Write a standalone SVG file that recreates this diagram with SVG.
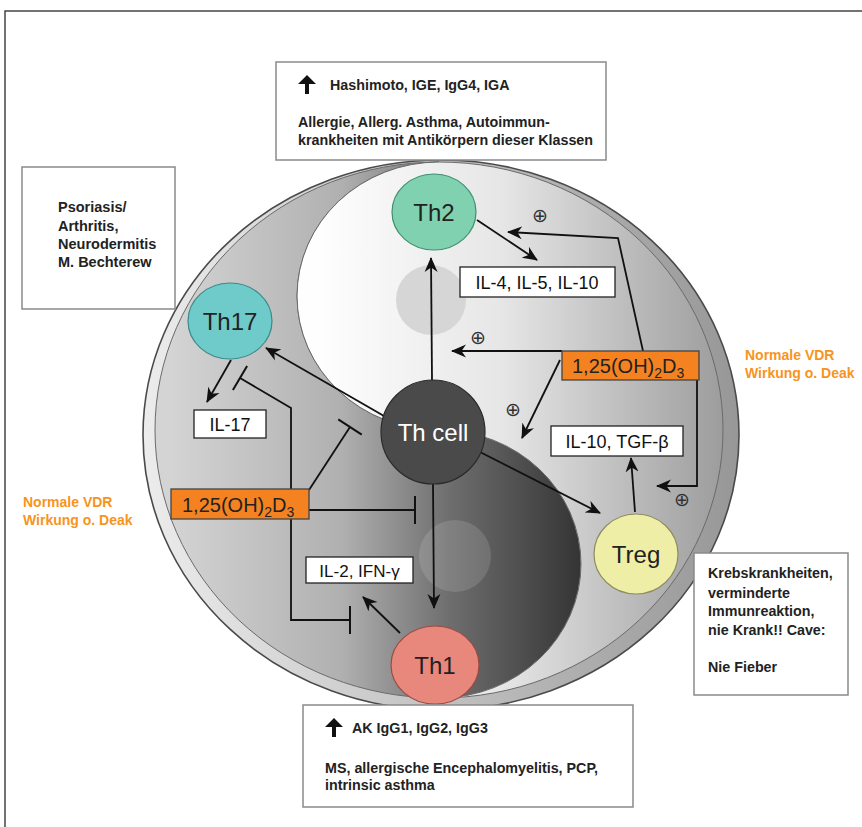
<svg xmlns="http://www.w3.org/2000/svg" width="862" height="827" viewBox="0 0 862 827">
<defs>
<linearGradient id="gRing" gradientUnits="userSpaceOnUse" x1="143" y1="0" x2="740" y2="0">
<stop offset="0" stop-color="#ececec"/><stop offset="1" stop-color="#979797"/>
</linearGradient>
<linearGradient id="gWhite" gradientUnits="userSpaceOnUse" x1="320" y1="0" x2="725" y2="0">
<stop offset="0" stop-color="#fefefe"/><stop offset="0.45" stop-color="#e6e6e6"/><stop offset="1" stop-color="#9c9c9c"/>
</linearGradient>
<linearGradient id="gDark" gradientUnits="userSpaceOnUse" x1="170" y1="0" x2="600" y2="0">
<stop offset="0" stop-color="#d4d4d4"/><stop offset="0.4" stop-color="#b0b0b0"/><stop offset="0.65" stop-color="#6e6e6e"/><stop offset="1" stop-color="#2c2c2c"/>
</linearGradient>
<marker id="arr" markerUnits="userSpaceOnUse" markerWidth="16" markerHeight="14" refX="14" refY="7" orient="auto" viewBox="0 0 16 14">
<path d="M0,0.5 L15,7 L0,13.5 L4.5,7 Z" fill="#111"/>
</marker>
<marker id="tee" markerUnits="userSpaceOnUse" markerWidth="6" markerHeight="30" refX="3" refY="15" orient="auto" viewBox="0 0 6 30">
<path d="M3,1 L3,29" stroke="#111" stroke-width="2"/>
</marker>
</defs>
<style>
.frame{fill:none;stroke:#444;stroke-width:1.5}
.ell{stroke:#4a4a4a;stroke-width:1.6}
.lobe{stroke:#6a6a6a;stroke-width:1}
.con{fill:none;stroke:#111;stroke-width:1.8}
.ar{marker-end:url(#arr)}
.inh{marker-end:url(#tee)}
.node text{font-family:"Liberation Sans",Arial,sans-serif;font-size:24px;fill:#222;text-anchor:middle}
.nstroke{stroke-width:1.2}
.info rect{fill:#fff;stroke:#8a8a8a;stroke-width:1.5}
.info text{font-family:"Liberation Sans",Arial,sans-serif;font-weight:bold;fill:#222}
.lab rect{fill:#fff;stroke:#222;stroke-width:1.3}
.lab text{font-family:"Liberation Sans",Arial,sans-serif;font-size:18px;fill:#111;text-anchor:middle}
.vd rect{fill:#f58220;stroke:#444;stroke-width:1.3}
.vd text{font-family:"Liberation Sans",Arial,sans-serif;font-size:20px;fill:#222}
.orange{font-family:"Liberation Sans",Arial,sans-serif;font-weight:bold;font-size:14px;fill:#f7941d}
.plus{font-family:"DejaVu Sans",sans-serif;font-size:19px;fill:#333;text-anchor:middle}
</style>
<rect width="862" height="827" fill="#fff"/>
<path class="frame" d="M5,827 L5,11 L862,11"/>

<g id="background">
<ellipse class="ell" cx="441" cy="435" rx="298" ry="275" fill="url(#gRing)"/>
<path class="lobe" fill="url(#gDark)" d="M439,162 A284,268 0 0 0 439,698 A142,134 0 0 0 439,430 A142,134 0 0 1 439,162 Z"/>
<path class="lobe" fill="url(#gWhite)" d="M439,162 A284,268 0 0 1 439,698 A142,134 0 0 0 439,430 A142,134 0 0 1 439,162 Z"/>
<circle cx="431" cy="300" r="35" fill="#d6d6d6"/>
<circle cx="455" cy="556" r="36" fill="#ffffff" fill-opacity="0.13"/>
</g>

<g id="connectors">
<path class="con ar" d="M432,380 L431,258"/>
<path class="con ar" d="M477,220 L537,260"/>
<path class="con ar" d="M643,351 L618,238 L508,232"/>
<path class="con ar" d="M562,351 L452,351"/>
<path class="con ar" d="M560,360 L522,438"/>
<path class="con ar" d="M697,380 L697,486 L657,486"/>
<path class="con ar" d="M480,452 L600,513"/>
<path class="con ar" d="M635,512 L631,458"/>
<path class="con ar" d="M384,416 L266,348"/>
<path class="con ar" d="M231,360 L207,402"/>
<path class="con inh" d="M350,620 L291,620 L291,408 L240,378" marker-start="url(#tee)"/>
<path class="con inh" d="M309,490 L350,427"/>
<path class="con inh" d="M309,510 L415,510"/>
<path class="con ar" d="M433,484 L434,608"/>
<path class="con ar" d="M400,633 L363,597"/>
<text class="plus" x="540" y="222">⊕</text>
<text class="plus" x="478" y="344">⊕</text>
<text class="plus" x="513" y="416">⊕</text>
<text class="plus" x="682" y="506">⊕</text>
</g>

<g id="Th2" class="node"><ellipse class="nstroke" cx="434" cy="212" rx="42" ry="38" fill="#7fd1b0" stroke="#3f8f6f"/><text x="434" y="221">Th2</text></g>
<g id="Th17" class="node"><ellipse class="nstroke" cx="230" cy="321" rx="42" ry="38" fill="#6fcaca" stroke="#3a8a8a"/><text x="230" y="330">Th17</text></g>
<g id="Thcell" class="node"><circle class="nstroke" cx="433" cy="432" r="52" fill="#4a4a4a" stroke="#2a2a2a"/><text x="433" y="441" style="fill:#fff">Th cell</text></g>
<g id="Treg" class="node"><ellipse class="nstroke" cx="636" cy="554" rx="42" ry="40" fill="#efeea6" stroke="#8d8d60"/><text x="636" y="563">Treg</text></g>
<g id="Th1" class="node"><ellipse class="nstroke" cx="435" cy="665" rx="44" ry="39" fill="#e8877b" stroke="#9c4b42"/><text x="435" y="674">Th1</text></g>

<g id="IL4" class="lab"><rect x="460" y="267" width="155" height="30"/><text x="537" y="289">IL-4, IL-5, IL-10</text></g>
<g id="IL10TGF" class="lab"><rect x="551" y="426" width="132" height="30"/><text x="617" y="448">IL-10, TGF-β</text></g>
<g id="IL17" class="lab"><rect x="194" y="410" width="72" height="28"/><text x="230" y="431">IL-17</text></g>
<g id="IL2" class="lab"><rect x="306" y="557" width="107" height="26"/><text x="359.5" y="577" style="font-size:17px">IL-2, IFN-γ</text></g>

<g id="vdr-right" class="vd"><rect x="562" y="351" width="137" height="29"/><text x="572" y="373">1,25(OH)<tspan dy="5" font-size="14">2</tspan><tspan dy="-5">D</tspan><tspan dy="5" font-size="14">3</tspan></text></g>
<g id="vdr-left" class="vd"><rect x="171" y="489" width="138" height="30"/><text x="182" y="512">1,25(OH)<tspan dy="5" font-size="14">2</tspan><tspan dy="-5">D</tspan><tspan dy="5" font-size="14">3</tspan></text></g>

<g id="note-right-vdr"><text class="orange" x="745" y="360">Normale VDR</text><text class="orange" x="745" y="378">Wirkung o. Deak</text></g>
<g id="note-left-vdr"><text class="orange" x="23" y="507">Normale VDR</text><text class="orange" x="23" y="525">Wirkung o. Deak</text></g>

<g id="box-top" class="info">
<rect x="276" y="62" width="330" height="98"/>
<path d="M307,75 L316,84 L309,84 L309,94 L305,94 L305,84 L298,84 Z" fill="#111"/>
<text x="330" y="90" font-size="14.3">Hashimoto, IGE, IgG4, IGA</text>
<text x="298" y="127" font-size="14.3">Allergie, Allerg. Asthma, Autoimmun-</text>
<text x="298" y="145" font-size="14.3">krankheiten mit Antikörpern dieser Klassen</text>
</g>
<g id="box-left" class="info">
<rect x="22" y="167" width="153" height="142"/>
<text x="58" y="212" font-size="14.5">Psoriasis/</text>
<text x="58" y="231" font-size="14.5">Arthritis,</text>
<text x="58" y="249" font-size="14.5">Neurodermitis</text>
<text x="58" y="267" font-size="14.5">M. Bechterew</text>
</g>
<g id="box-right" class="info">
<rect x="694" y="553" width="154" height="142"/>
<text x="708" y="578" font-size="14.3">Krebskrankheiten,</text>
<text x="708" y="598" font-size="14.3">verminderte</text>
<text x="708" y="616" font-size="14.3">Immunreaktion,</text>
<text x="708" y="635" font-size="14.3">nie Krank!! Cave:</text>
<text x="708" y="672" font-size="14.3">Nie Fieber</text>
</g>
<g id="box-bottom" class="info">
<rect x="303" y="705" width="330" height="102"/>
<path d="M334,718 L343,727 L336,727 L336,737 L332,737 L332,727 L325,727 Z" fill="#111"/>
<text x="352" y="733" font-size="14.3">AK IgG1, IgG2, IgG3</text>
<text x="325" y="773" font-size="14.3">MS, allergische Encephalomyelitis, PCP,</text>
<text x="325" y="790" font-size="14.3">intrinsic asthma</text>
</g>
</svg>
